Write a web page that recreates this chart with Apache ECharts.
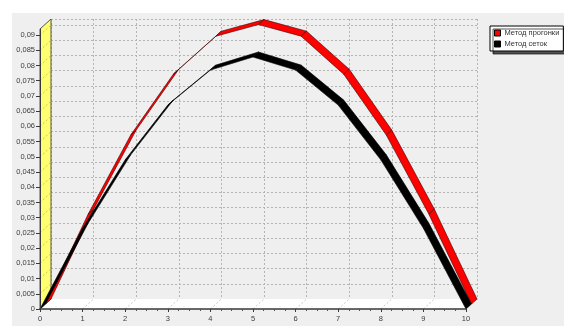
<!DOCTYPE html>
<html>
<head>
<meta charset="utf-8">
<script src="https://cdn.jsdelivr.net/npm/echarts@6/dist/echarts.min.js"></script>
<style>
  html, body { margin: 0; padding: 0; background: #fff; }
  #chart { width: 564px; height: 329px; }
</style>
</head>
<body>
<div id="chart"></div>
<script>
// data
const xValues = [0, 1, 2, 3, 4, 5, 6, 7, 8, 9, 10];
const progonka = [0, 0.0295, 0.0555, 0.0755, 0.0880, 0.0918, 0.0880, 0.0755, 0.0555, 0.0295, 0];
const setok = [0, 0.0265, 0.0490, 0.0670, 0.0785, 0.0828, 0.0785, 0.0670, 0.0490, 0.0265, 0];
const yTicks = [0, 0.005, 0.01, 0.015, 0.02, 0.025, 0.03, 0.035, 0.04, 0.045,
  0.05, 0.055, 0.06, 0.065, 0.07, 0.075, 0.08, 0.085, 0.09];
const seriesNames = ['Метод прогонки', 'Метод сеток'];

const X_MAX = 10;
const Y_MAX = 0.092;
// 3d depth of the chart (pixels)
const DX = 11, DY = -10;

const chart = echarts.init(document.getElementById('chart'));

function segments(vals) {
  const out = [];
  for (let i = 0; i < vals.length - 1; i++) {
    out.push([xValues[i], vals[i], xValues[i + 1], vals[i + 1]]);
  }
  return out;
}

function ribbon(d0, d1, fill, edge) {
  return function (params, api) {
    const p1 = api.coord([api.value(0), api.value(1)]);
    const p2 = api.coord([api.value(2), api.value(3)]);
    const a = [DX * d0, DY * d0], b = [DX * d1, DY * d1];
    return {
      type: 'polygon',
      shape: {
        points: [
          [p1[0] + a[0], p1[1] + a[1]],
          [p2[0] + a[0], p2[1] + a[1]],
          [p2[0] + b[0], p2[1] + b[1]],
          [p1[0] + b[0], p1[1] + b[1]]
        ]
      },
      style: { fill: fill, stroke: edge, lineWidth: 0.6 }
    };
  };
}

const fmt = v => String(+v.toFixed(3)).replace('.', ',');
const labelFont = { fontFamily: 'Liberation Sans, Arial', fontSize: 7.5, color: '#3c3c3c' };
const dotted = { color: '#b4b4b4', type: [2, 2], width: 1 };

const option = {
  animation: false,
  backgroundColor: '#fff',
  grid: [
    { left: 40, right: 98, top: 29, bottom: 20 },
    { left: 51, right: 87, top: 19, bottom: 30, show: true, backgroundColor: '#efefef', borderWidth: 0 }
  ],
  legend: {
    left: 490, top: 26,
    orient: 'vertical',
    icon: 'rect',
    itemWidth: 6, itemHeight: 6, itemGap: 3,
    padding: [3, 4, 3, 4],
    backgroundColor: '#fff',
    borderColor: '#000', borderWidth: 1,
    shadowColor: 'rgba(0,0,0,0.65)', shadowOffsetX: 3, shadowOffsetY: 3, shadowBlur: 0,
    itemStyle: { borderColor: '#000', borderWidth: 1 },
    textStyle: { fontFamily: 'Liberation Sans, Arial', fontSize: 7.5, color: '#333', padding: [0, 0, 0, -1] },
    selectedMode: false,
    data: seriesNames
  },
  xAxis: [
    {
      gridIndex: 0, type: 'value', min: 0, max: X_MAX, interval: 1, z: 3,
      axisLine: { lineStyle: { color: '#3a3a3a', width: 1.5 } },
      axisTick: { length: 3, lineStyle: { color: '#3a3a3a' } },
      minorTick: { show: true, splitNumber: 4, length: 2, lineStyle: { color: '#555' } },
      axisLabel: Object.assign({ margin: 6 }, labelFont),
      splitLine: { show: false }
    },
    {
      gridIndex: 1, type: 'value', min: 0, max: X_MAX, interval: 1, position: 'top',
      axisLine: { lineStyle: { color: '#7a7a7a', width: 1 } },
      axisTick: { show: false }, axisLabel: { show: false },
      splitLine: { show: true, lineStyle: dotted }
    }
  ],
  yAxis: [
    {
      gridIndex: 0, type: 'value', min: 0, max: Y_MAX, z: 3,
      axisLine: { show: true, lineStyle: { color: '#3a3a3a', width: 1 } },
      axisTick: { show: true, length: 4, customValues: yTicks, lineStyle: { color: '#3a3a3a' } },
      axisLabel: Object.assign({ margin: 5, customValues: yTicks, formatter: fmt }, labelFont),
      splitLine: { show: false }
    },
    {
      gridIndex: 1, type: 'value', min: 0, max: Y_MAX, interval: 0.005,
      axisLine: { show: false }, axisTick: { show: false }, axisLabel: { show: false },
      splitLine: { show: true, lineStyle: dotted }
    }
  ],
  series: [
    {
      name: seriesNames[0], type: 'custom', xAxisIndex: 0, yAxisIndex: 0,
      clip: false, silent: true,
      itemStyle: { color: '#ff0000' },
      encode: { x: [0, 2], y: [1, 3] },
      renderItem: ribbon(0.5, 1, '#ff0000', '#3a0000'),
      data: segments(progonka)
    },
    {
      name: seriesNames[1], type: 'custom', xAxisIndex: 0, yAxisIndex: 0,
      clip: false, silent: true,
      itemStyle: { color: '#000000' },
      encode: { x: [0, 2], y: [1, 3] },
      renderItem: ribbon(0, 0.5, '#000000', '#000'),
      data: segments(setok)
    }
  ]
};

chart.setOption(option);

// walls and floor, placed from the front grid's scales
const cp = v => chart.convertToPixel({ gridIndex: 0 }, v);
const A = cp([0, 0]), B = cp([X_MAX, 0]), C = cp([0, Y_MAX]);
const off = p => [p[0] + DX, p[1] + DY];
const elements = [
  { type: 'rect', z: -5, shape: { x: 12, y: 13, width: 552, height: 313 }, style: { fill: '#efefef' } },
  { type: 'polygon', z: 1, shape: { points: [A, B, off(B), off(A)] }, style: { fill: '#ffffff' } },
  { type: 'polygon', z: 1, shape: { points: [A, C, off(C), off(A)] }, style: { fill: '#ffff70', stroke: '#555', lineWidth: 1 } }
];
xValues.forEach(x => {
  if (x === 0) return;
  const p = cp([x, 0]);
  elements.push({ type: 'line', z: 1, shape: { x1: p[0], y1: p[1], x2: p[0] + DX, y2: p[1] + DY },
    style: { stroke: '#c8c8c8', lineWidth: 1, lineDash: [2, 2] } });
});
yTicks.forEach(y => {
  if (y === 0) return;
  const p = cp([0, y]);
  elements.push({ type: 'line', z: 1, shape: { x1: p[0], y1: p[1], x2: p[0] + DX, y2: p[1] + DY },
    style: { stroke: '#c9c95a', lineWidth: 1, lineDash: [2, 2] } });
});
chart.setOption({ graphic: { elements: elements } });
</script>
</body>
</html>
